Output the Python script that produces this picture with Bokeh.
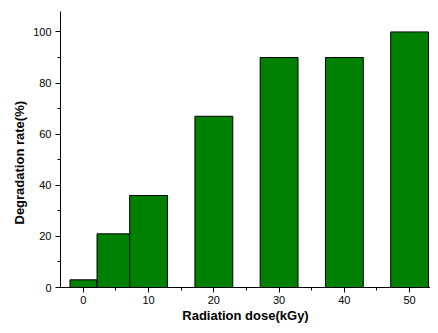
from bokeh.plotting import figure
from bokeh.models import SingleIntervalTicker, Range1d, ColumnDataSource, Title
from bokeh.embed import file_html
from bokeh.resources import INLINE

# Data
doses = [0, 5, 10, 20, 30, 40, 50]
degradation = [3, 21, 36, 67, 90, 90, 100]

# style
bar_widths = [4.1, 5.8, 5.8, 5.8, 5.8, 5.8, 5.8]

left = [x - w / 2 for x, w in zip(doses, bar_widths)]
right = [x + w / 2 for x, w in zip(doses, bar_widths)]
src = ColumnDataSource(dict(left=left, right=right, top=degradation,
                            bottom=[0] * len(doses)))

p = figure(width=430, height=325, output_backend="svg", toolbar_location=None,
           x_range=Range1d(-3.5, 53.2), y_range=Range1d(0, 108),
           min_border_left=60, min_border_right=0, min_border_top=11,
           min_border_bottom=0)
p.outline_line_color = None
p.xgrid.visible = False
p.ygrid.visible = False
p.background_fill_color = "white"
p.border_fill_color = "white"

p.quad(left="left", right="right", top="top", bottom="bottom", source=src,
       fill_color="#008000", line_color="black", line_width=1)

FONT = "Liberation Sans"
for ax in (p.xaxis[0], p.yaxis[0]):
    ax.axis_line_color = "black"
    ax.axis_line_width = 1
    ax.major_tick_out = 5
    ax.major_tick_in = 0
    ax.minor_tick_out = 3
    ax.minor_tick_in = 0
    ax.major_tick_line_color = "black"
    ax.minor_tick_line_color = "black"
    ax.major_label_text_font = FONT
    ax.major_label_text_font_size = "11px"
    ax.major_label_text_color = "black"
    ax.axis_label_text_font = FONT
    ax.axis_label_text_font_size = "13px"
    ax.axis_label_text_font_style = "bold"
    ax.axis_label_text_color = "black"

p.xaxis.ticker = SingleIntervalTicker(interval=10, num_minor_ticks=2)
p.yaxis.ticker = SingleIntervalTicker(interval=20, num_minor_ticks=2)
p.xaxis.axis_label = "Radiation dose(kGy)"
p.xaxis.major_label_standoff = 3
p.xaxis.axis_label_standoff = 1
p.yaxis.major_label_standoff = 4

ytitle = Title(text="Degradation rate(%)", align="left", offset=63,
               text_font=FONT, text_font_size="13px", text_font_style="bold",
               text_color="black", standoff=7)
p.add_layout(ytitle, "left")

open("out.html", "w").write(file_html(p, INLINE))
